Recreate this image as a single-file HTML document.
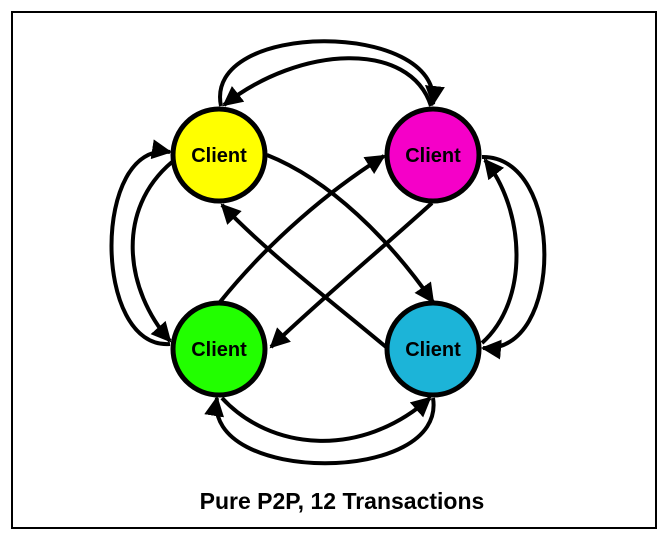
<!DOCTYPE html>
<html><head><style>
body{margin:0;background:#fff;}
svg{display:block;}
</style></head><body>
<svg width="668" height="540" viewBox="0 0 668 540" xmlns="http://www.w3.org/2000/svg">
<defs>
<marker id="a" viewBox="0 0 10 10" refX="9" refY="5" markerWidth="5" markerHeight="5" markerUnits="strokeWidth" orient="auto">
<path d="M0,0 L10,5 L0,10 z" fill="#000"/>
</marker>
</defs>
<rect x="12" y="12" width="644" height="516" fill="#fff" stroke="#000" stroke-width="2"/>
<g fill="none" stroke="#000" stroke-width="4" marker-end="url(#a)">
<path d="M221,106 C203,20 442,20 433,104"/>
<path d="M431,106 C410,40 300,45 224,105"/>
<path d="M222,398 C270,450 360,460 430,398"/>
<path d="M433,398 C447,485 203,485 217,398"/>
<path d="M170,344 C92,350 92,140 170,152"/>
<path d="M172,162 C115,210 125,290 170,341"/>
<path d="M482,157 C565,155 565,355 483,348"/>
<path d="M482,343 C530,300 525,210 485,160"/>
<path d="M267,155 C330,180 390,240 433,302"/>
<path d="M386,347 C330,300 270,255 222,205"/>
<path d="M220,302 C270,240 330,190 384,156"/>
<path d="M432,203 C380,250 320,300 271,347"/>
</g>
<g stroke="#000" stroke-width="5">
<circle cx="219" cy="155" r="46" fill="#ffff00"/>
<circle cx="433" cy="155" r="46" fill="#f500c8"/>
<circle cx="219" cy="349" r="46" fill="#22ff00"/>
<circle cx="433" cy="349" r="46" fill="#1cb4d8"/>
</g>
<g font-family="Liberation Sans, sans-serif" font-weight="bold" font-size="20" text-anchor="middle" fill="#000">
<text x="219" y="162">Client</text>
<text x="433" y="162">Client</text>
<text x="219" y="356">Client</text>
<text x="433" y="356">Client</text>
<text x="342" y="509" font-size="23">Pure P2P, 12 Transactions</text>
</g>
</svg>
</body></html>
